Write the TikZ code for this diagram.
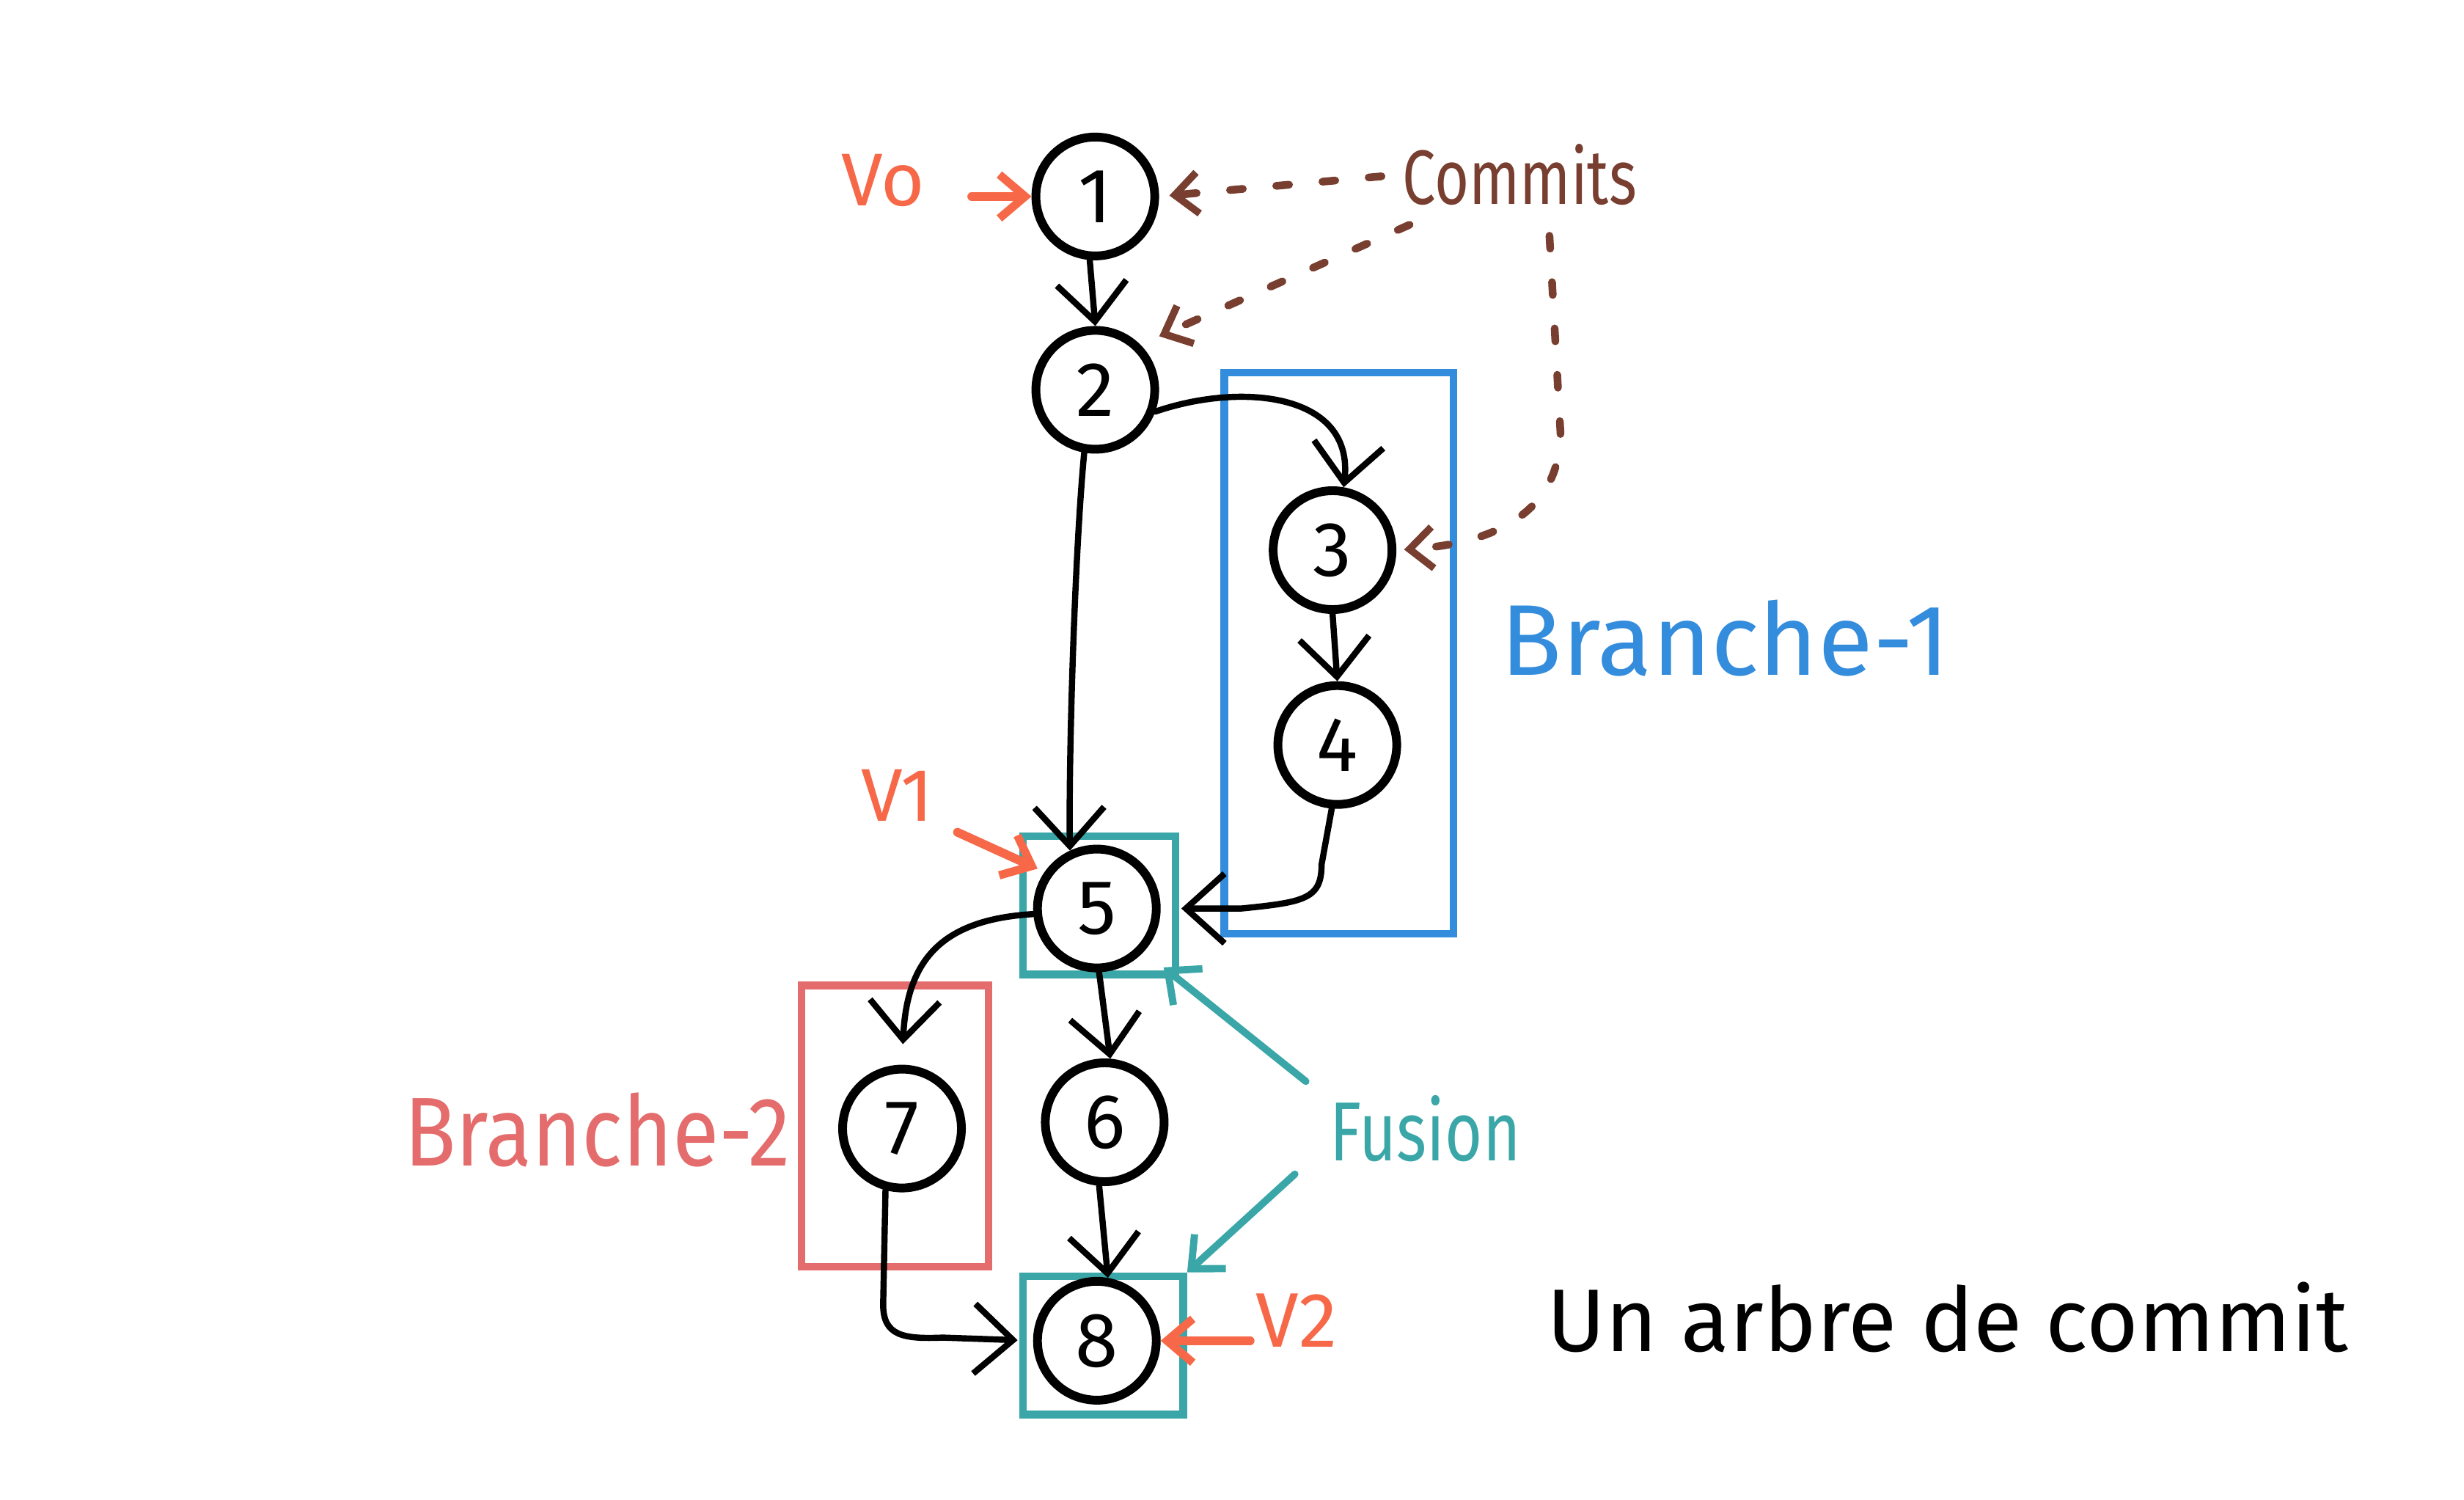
\documentclass[tikz,border=0pt]{standalone}
\usepackage{fontspec}
\setmainfont{Fira Sans}
\usetikzlibrary{arrows.meta,fit}
\definecolor{vorange}{RGB}{246,104,72}
\definecolor{cbrown}{RGB}{120,62,48}
\definecolor{bblue}{RGB}{52,140,220}
\definecolor{bred}{RGB}{228,108,108}
\definecolor{fteal}{RGB}{58,166,168}
\tikzset{
  commit/.style={circle, draw=black, line width=3.4pt, minimum size=1.62cm, inner sep=0pt,
    font=\fontsize{30}{30}\selectfont},
  link/.style={draw=black, line width=2.4pt, line cap=round, line join=round,
    -{Straight Barb[length=15pt,width=27pt,line width=2.4pt]}},
  vlink/.style={draw=vorange, line width=3.4pt, line cap=round,
    -{Straight Barb[length=10pt,width=17pt,line width=3.2pt]}},
  clink/.style={draw=cbrown, line width=3pt, line cap=round, dash pattern=on 5pt off 13pt,
    -{Straight Barb[length=9pt,width=16pt,line width=2.8pt]}},
  flink/.style={draw=fteal, line width=2.8pt, line cap=round,
    -{Straight Barb[length=10pt,width=18pt,line width=2.8pt]}},
  boxframe/.style={draw, line width=3pt, inner sep=0pt},
  lbl/.style={inner sep=0pt}
}
\begin{document}
\begin{tikzpicture}[x=0.021429cm, y=-0.021429cm]
\useasboundingbox (0,0) rectangle (1568,954);
% boxes
\node[boxframe, draw=bblue, fit={(779,237) (925,594)}] (b1) {};
\node[boxframe, draw=bred, fit={(510,627) (629,806)}] (b2) {};
\node[boxframe, draw=fteal, fit={(651,532) (748,620)}] (t5) {};
\node[boxframe, draw=fteal, fit={(651,812) (753,900)}] (t8) {};
% commits
\node[commit] (n1) at (697,125) {1};
\node[commit] (n2) at (697,248) {2};
\node[commit] (n3) at (848,350) {3};
\node[commit] (n4) at (851,474) {4};
\node[commit] (n5) at (698,578) {5};
\node[commit] (n6) at (703,714) {6};
\node[commit] (n7) at (574,718) {7};
\node[commit] (n8) at (698,853) {8};
% labels
\node[lbl, text=vorange, font=\fontsize{29}{29}\selectfont] (vo) at (562,115) {Vo};
\node[lbl, text=vorange, font=\fontsize{29}{29}\selectfont] (v1) at (571,506) {V1};
\node[lbl, text=vorange, font=\fontsize{30}{30}\selectfont] (v2) at (825,840) {V2};
\node[lbl, text=cbrown, font=\fontsize{23}{23}\selectfont] (com) at (967,111) {\scalebox{1}[1.3]{Commits}};
\node[lbl, text=bblue, font=\fontsize{39}{39}\selectfont] (lb1) at (1098,406) {Branche-1};
\node[lbl, text=bred, font=\fontsize{33}{33}\selectfont] (lb2) at (380,719) {\scalebox{1}[1.15]{Branche-2}};
\node[lbl, text=fteal, font=\fontsize{25}{25}\selectfont] (fus) at (907,718) {\scalebox{1}[1.3]{Fusion}};
\node[lbl, anchor=base west, font=\fontsize{34.5}{34.5}\selectfont] (title) at (984,860) {Un arbre de commit};
% connectors
\draw[link] (n1.-95) -- (n2.north);
\draw[link] (n2.-20) .. controls (790,243) and (862,250) .. (n3.80);
\draw[link] (n2.-100) .. controls (684,350) and (680,480) .. (n5.115);
\draw[link] (n3.south) -- (n4.north);
\draw[link, shorten >=8pt] (n4.-95) -- (841,550) .. controls (841,572) and (830,574) .. (790,578) -- (n5.east);
\draw[link, shorten >=8pt] (n5.185) .. controls (600,585) and (577,610) .. (n7.north);
\draw[link] (n5.-88) -- (n6.85);
\draw[link] (n6.-95) -- (n8.80);
\draw[link, shorten >=6pt] (n7.-105) -- (562,830) .. controls (562,850) and (575,852) .. (600,851) -- (n8.west);
% version arrows
\draw[vlink, shorten <=18pt] (vo.east |- n1.west) -- (n1.west);
\draw[vlink, shorten <=10pt, shorten >=3pt] (v1.south east) -- (n5.145);
\draw[vlink, shorten <=2pt] (v2.west |- n8.east) -- (n8.east);
% commit pointers
\draw[clink, shorten <=8pt, shorten >=4pt] (com.west) -- (n1.east);
\coordinate (c2) at (897,143);
\draw[clink, shorten >=8pt] (c2) -- (n2.north east);
\coordinate (c3) at (986,150);
\draw[clink, shorten >=3pt] (c3) -- (993,275) .. controls (993,320) and (960,345) .. (n3.east);
% fusion arrows
\coordinate (fa) at (831,688);
\coordinate (fb) at (824,747);
\draw[flink] (fa) -- ([shift={(-10,-7)}]t5.south east);
\draw[flink] (fb) -- (t8.north east);
\end{tikzpicture}
\end{document}
